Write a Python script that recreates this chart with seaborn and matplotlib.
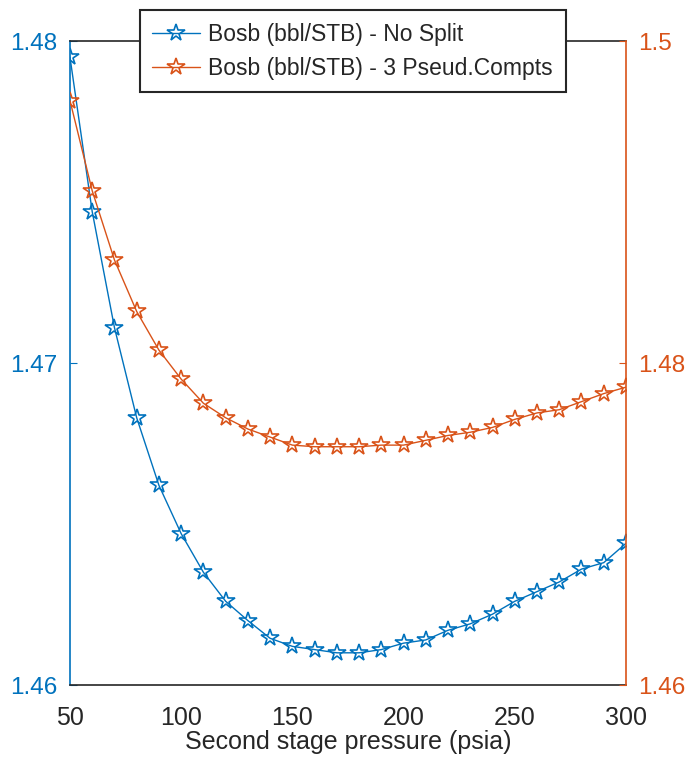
import matplotlib
matplotlib.use("Agg")
import matplotlib.pyplot as plt
import seaborn as sns
import pandas as pd

pressure = [50, 60, 70, 80, 90, 100, 110, 120, 130, 140, 150, 160, 170,
            180, 190, 200, 210, 220, 230, 240, 250, 260, 270, 280, 290, 300]

bosb_no_split = [1.4795, 1.4747, 1.4711, 1.4683, 1.4662, 1.4647, 1.4635,
                 1.4626, 1.4620, 1.46145, 1.4612, 1.4611, 1.4610, 1.4610,
                 1.4611, 1.4613, 1.4614, 1.4617, 1.4619, 1.4622, 1.4626,
                 1.4629, 1.4632, 1.4636, 1.4638, 1.4644]

bosb_3_pseudo = [1.4963, 1.4907, 1.4864, 1.4832, 1.4808, 1.4790, 1.4775,
                 1.4766, 1.4759, 1.4754, 1.4749, 1.4748, 1.4748, 1.4748,
                 1.4749, 1.4749, 1.4752, 1.4755, 1.4757, 1.4760, 1.4765,
                 1.4769, 1.4771, 1.4776, 1.4781, 1.4785]

labels = ["Bosb (bbl/STB) - No Split", "Bosb (bbl/STB) - 3 Pseud.Compts"]

left_ticks = [1.46, 1.47, 1.48]
right_ticks = [1.46, 1.48, 1.5]
x_ticks = [50, 100, 150, 200, 250, 300]

df = pd.DataFrame({"pressure": pressure,
                   "no_split": bosb_no_split,
                   "pseudo": bosb_3_pseudo})

sns.set_style("white")
plt.rcParams["font.family"] = ["Liberation Sans", "DejaVu Sans"]

blue = "#0072BD"
orange = "#D95319"
dark = "#262626"

fig = plt.figure(figsize=(6.86, 7.64), dpi=100)
ax = fig.add_axes([0.102, 0.1034, 0.8105, 0.8429])
ax2 = ax.twinx()

sns.lineplot(data=df, x="pressure", y="no_split", ax=ax, color=blue,
             marker="*", markersize=13, markerfacecolor="none",
             markeredgecolor=blue, markeredgewidth=1.2, linewidth=1.0,
             label=labels[0], legend=False)
sns.lineplot(data=df, x="pressure", y="pseudo", ax=ax2, color=orange,
             marker="*", markersize=13, markerfacecolor="none",
             markeredgecolor=orange, markeredgewidth=1.2, linewidth=1.0,
             label=labels[1], legend=False)

ax.set_xlim(50, 300)
ax.set_ylim(1.46, 1.48)
ax2.set_ylim(1.46, 1.5)
ax.set_xticks(x_ticks)
ax.set_yticks(left_ticks)
ax.set_yticklabels(["1.46", "1.47", "1.48"])
ax2.set_yticks(right_ticks)
ax2.set_yticklabels(["1.46", "1.48", "1.5"])

ax.set_xlabel("Second stage pressure (psia)", fontsize=18, color=dark, labelpad=0)
ax.set_ylabel("")
ax2.set_ylabel("")

ax.tick_params(axis="x", direction="in", length=5, colors=dark, labelsize=18, pad=15)
ax.tick_params(axis="y", direction="in", length=5, colors=blue, labelsize=17.5, pad=9)
ax2.tick_params(axis="y", direction="in", length=5, colors=orange, labelsize=17.5, pad=9)

for a in (ax, ax2):
    for s in a.spines.values():
        s.set_visible(False)
ax.spines["left"].set_visible(True)
ax.spines["left"].set_color(blue)
ax.spines["bottom"].set_visible(True)
ax.spines["bottom"].set_color(dark)
ax.spines["top"].set_visible(True)
ax.spines["top"].set_color(dark)
ax2.spines["right"].set_visible(True)
ax2.spines["right"].set_color(orange)
for a in (ax, ax2):
    for s in a.spines.values():
        s.set_linewidth(1.2)

h1, _ = ax.get_legend_handles_labels()
h2, _ = ax2.get_legend_handles_labels()
leg = fig.legend(h1 + h2, labels, loc="upper center",
                 bbox_to_anchor=(0.514, 0.987), fontsize=16.5,
                 frameon=True, fancybox=False, framealpha=1,
                 edgecolor=dark, handlelength=2.1, borderpad=0.55,
                 labelspacing=0.48, handletextpad=0.35, borderaxespad=0)
leg.get_frame().set_linewidth(1.5)

fig.savefig("out.png", dpi=100)
